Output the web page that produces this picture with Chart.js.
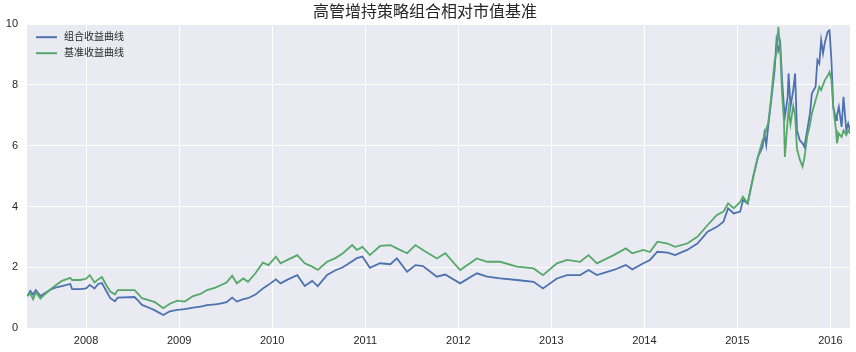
<!DOCTYPE html>
<html>
<head>
<meta charset="utf-8">
<title>高管增持策略组合相对市值基准</title>
<script src="https://cdn.jsdelivr.net/npm/chart.js@4.4.1/dist/chart.umd.min.js"></script>
<style>
  html, body { margin: 0; padding: 0; background: #fff; }
  #wrap { width: 856px; height: 352px; }
</style>
</head>
<body>
<div id="wrap"><canvas id="navChart" width="856" height="352"></canvas></div>
<script>
const chartTitle = "高管增持策略组合相对市值基准";
const seriesNames = ["组合收益曲线", "基准收益曲线"];

// dates as decimal years
const dates = [
  2007.37, 2007.40, 2007.43, 2007.46, 2007.51, 2007.56, 2007.61, 2007.67, 2007.74, 2007.83,
  2007.85, 2007.94, 2008.00, 2008.04, 2008.09, 2008.13, 2008.17, 2008.22, 2008.26, 2008.31,
  2008.34, 2008.52, 2008.56, 2008.60, 2008.69, 2008.74, 2008.83, 2008.90, 2008.98, 2009.06,
  2009.15, 2009.23, 2009.30, 2009.39, 2009.44, 2009.51, 2009.57, 2009.62, 2009.69, 2009.74,
  2009.82, 2009.90, 2009.96, 2010.04, 2010.09, 2010.17, 2010.27, 2010.35, 2010.43, 2010.49,
  2010.59, 2010.68, 2010.76, 2010.86, 2010.91, 2010.97, 2011.05, 2011.16, 2011.27, 2011.34,
  2011.45, 2011.54, 2011.62, 2011.77, 2011.86, 2012.02, 2012.20, 2012.31, 2012.45, 2012.63,
  2012.81, 2012.91, 2013.06, 2013.17, 2013.31, 2013.40, 2013.49, 2013.67, 2013.80, 2013.87,
  2013.99, 2014.06, 2014.14, 2014.25, 2014.33, 2014.46, 2014.57, 2014.68, 2014.78, 2014.85,
  2014.90, 2014.96, 2015.03, 2015.06, 2015.11,
  2015.17, 2015.22, 2015.27, 2015.29, 2015.31, 2015.33, 2015.36, 2015.40, 2015.42, 2015.44,
  2015.46, 2015.48, 2015.50, 2015.51, 2015.54, 2015.55, 2015.57, 2015.60, 2015.62, 2015.64,
  2015.67, 2015.70, 2015.72, 2015.75, 2015.78, 2015.80, 2015.84, 2015.86, 2015.88, 2015.90,
  2015.92, 2015.94, 2015.97, 2015.99, 2016.01, 2016.03, 2016.06, 2016.07, 2016.09, 2016.12,
  2016.14, 2016.17, 2016.19, 2016.21
];

const portfolio = [
  1.05, 1.22, 1.10, 1.25, 1.05, 1.15, 1.25, 1.33, 1.38, 1.45,
  1.28, 1.28, 1.30, 1.42, 1.30, 1.45, 1.48, 1.20, 0.98, 0.88,
  1.00, 1.02, 0.90, 0.76, 0.65, 0.58, 0.43, 0.55, 0.60, 0.62,
  0.67, 0.70, 0.75, 0.78, 0.80, 0.85, 1.00, 0.87, 0.95, 0.98,
  1.10, 1.30, 1.42, 1.60, 1.47, 1.60, 1.74, 1.38, 1.55, 1.38,
  1.75, 1.90, 2.00, 2.20, 2.30, 2.35, 1.98, 2.13, 2.10, 2.29,
  1.85, 2.07, 2.04, 1.69, 1.76, 1.47, 1.80, 1.69, 1.63, 1.58,
  1.52, 1.30, 1.63, 1.74, 1.74, 1.91, 1.74, 1.91, 2.07, 1.93,
  2.13, 2.24, 2.51, 2.48, 2.40, 2.57, 2.78, 3.17, 3.33, 3.50,
  3.94, 3.77, 3.83, 4.21, 4.10,
  4.98, 5.63, 5.96, 6.40, 6.02, 6.62, 7.40, 8.50, 9.47, 9.14,
  9.37, 8.16, 7.28, 6.95, 7.60, 8.38, 7.28, 7.83, 8.38, 6.51,
  6.18, 6.08, 5.96, 6.51, 7.06, 7.72, 7.94, 8.82, 8.71, 9.47,
  9.04, 9.40, 9.75, 9.80, 8.82, 7.28, 6.84, 7.00, 7.28, 6.62,
  7.61, 6.51, 6.73, 6.51
];

const benchmark = [
  1.05, 1.15, 0.95, 1.18, 0.97, 1.12, 1.25, 1.40, 1.55, 1.65,
  1.58, 1.58, 1.62, 1.74, 1.50, 1.60, 1.68, 1.40, 1.20, 1.10,
  1.25, 1.25, 1.12, 0.98, 0.90, 0.85, 0.65, 0.80, 0.90, 0.87,
  1.05, 1.12, 1.25, 1.33, 1.40, 1.50, 1.72, 1.47, 1.63, 1.52,
  1.80, 2.15, 2.07, 2.35, 2.13, 2.25, 2.40, 2.13, 2.02, 1.91,
  2.18, 2.30, 2.46, 2.73, 2.57, 2.67, 2.40, 2.70, 2.73, 2.62,
  2.46, 2.73, 2.57, 2.29, 2.46, 1.91, 2.29, 2.18, 2.18, 2.02,
  1.96, 1.74, 2.13, 2.24, 2.18, 2.40, 2.13, 2.40, 2.62, 2.46,
  2.57, 2.50, 2.84, 2.78, 2.67, 2.78, 3.00, 3.39, 3.72, 3.83,
  4.10, 3.94, 4.15, 4.32, 4.10,
  4.98, 5.63, 6.18, 6.30, 6.55, 6.73, 7.50, 8.80, 9.04, 9.91,
  9.14, 7.72, 6.84, 5.63, 6.84, 7.20, 6.70, 7.30, 7.00, 5.90,
  5.55, 5.31, 5.60, 6.30, 6.70, 7.06, 7.50, 7.70, 7.94, 7.83,
  8.00, 8.16, 8.30, 8.43, 8.16, 7.28, 6.51, 6.08, 6.40, 6.29,
  6.50, 6.35, 6.50, 6.40
];

const yearTicks = [2008, 2009, 2010, 2011, 2012, 2013, 2014, 2015, 2016];
const yearLabels = ["2008", "2009", "2010", "2011", "2012", "2013", "2014", "2015", "2016"];
const yTicks = [0, 2, 4, 6, 8, 10];

const FONT = "'Liberation Sans', 'Noto Sans CJK SC', sans-serif";
const TEXT = "#262626";

document.addEventListener("DOMContentLoaded", () => {
  initChart();
});

function toPoints(values) {
  return values.map((v, i) => ({ x: dates[i], y: v }));
}

// seaborn-like grey plot background
const plotBackground = {
  id: "plotBackground",
  beforeDraw(chart) {
    const { ctx, chartArea: a } = chart;
    ctx.save();
    ctx.fillStyle = "#EAEAF2";
    ctx.fillRect(a.left, a.top, a.right - a.left, a.bottom - a.top);
    ctx.restore();
  },
};

// legend drawn inside the plot, top-left
const innerLegend = {
  id: "innerLegend",
  afterDraw(chart) {
    const { ctx, chartArea: a } = chart;
    ctx.save();
    ctx.font = "10px " + FONT;
    ctx.textBaseline = "middle";
    chart.data.datasets.forEach((ds, i) => {
      const y = a.top + 13 + i * 16;
      ctx.strokeStyle = ds.borderColor;
      ctx.lineWidth = 2;
      ctx.beginPath();
      ctx.moveTo(a.left + 9, y);
      ctx.lineTo(a.left + 30, y);
      ctx.stroke();
      ctx.fillStyle = TEXT;
      ctx.fillText(ds.label, a.left + 37, y);
    });
    ctx.restore();
  },
};

function initChart() {
  const ctx = document.getElementById("navChart").getContext("2d");
  new Chart(ctx, {
    type: "line",
    data: {
      datasets: [
        {
          label: seriesNames[0],
          data: toPoints(portfolio),
          borderColor: "#4C72B0",
          backgroundColor: "#4C72B0",
          borderWidth: 1.8,
          pointRadius: 0,
          tension: 0,
          order: 1,
        },
        {
          label: seriesNames[1],
          data: toPoints(benchmark),
          borderColor: "#55A868",
          backgroundColor: "#55A868",
          borderWidth: 1.8,
          pointRadius: 0,
          tension: 0,
          order: 0,
        },
      ],
    },
    options: {
      responsive: false,
      animation: false,
      layout: { padding: { left: 0, right: 6, top: 0, bottom: 0 } },
      plugins: {
        legend: { display: false },
        tooltip: { enabled: false },
        title: {
          display: true,
          text: chartTitle,
          color: TEXT,
          font: { family: FONT, size: 16, weight: "normal", lineHeight: 1.2 },
          padding: { top: 3, bottom: 2 },
        },
      },
      scales: {
        x: {
          type: "linear",
          min: 2007.365,
          max: 2016.21,
          afterBuildTicks: (scale) => {
            scale.ticks = yearTicks.map((v) => ({ value: v }));
          },
          afterFit: (scale) => { scale.height = 24; },
          grid: { color: "#ffffff", lineWidth: 1, drawTicks: false },
          border: { display: false },
          ticks: {
            color: TEXT,
            font: { family: FONT, size: 11 },
            padding: 6,
            maxRotation: 0,
            autoSkip: false,
            callback: (v) => yearLabels[yearTicks.indexOf(v)],
          },
        },
        y: {
          min: 0,
          max: 10,
          afterBuildTicks: (scale) => {
            scale.ticks = yTicks.map((v) => ({ value: v }));
          },
          afterFit: (scale) => { scale.width = 27; },
          grid: { color: "#ffffff", lineWidth: 1, drawTicks: false },
          border: { display: false },
          ticks: {
            color: TEXT,
            font: { family: FONT, size: 11 },
            padding: 9,
            callback: (v) => String(v),
          },
        },
      },
    },
    plugins: [plotBackground, innerLegend],
  });
}
</script>
</body>
</html>
